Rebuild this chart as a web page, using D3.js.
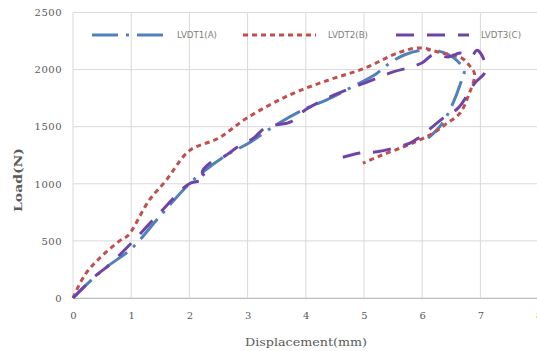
<!DOCTYPE html>
<html><head><meta charset="utf-8">
<script src="https://cdn.jsdelivr.net/npm/d3@7"></script>
<style>body{margin:0;background:#fff;}svg{display:block;}</style>
</head><body>
<svg id="chart" width="537" height="351"></svg>
<script>
const xTicks = [0,1,2,3,4,5,6,7,8];
const yTicks = [0,500,1000,1500,2000,2500];
const seriesNames = ["LVDT1(A)","LVDT2(B)","LVDT3(C)"];
const seriesColors = ["#4f81bd","#c0504d","#7044a6"];
const seriesDash = ["26,8,3,8","5,4","18,13"];

const dispA = [0,0.3,0.6,1.0,1.5,2.0,2.3,2.7,3.0,3.5,4.0,4.36,4.8,5.2,5.45,5.7,6.0,6.3,6.55,6.72,6.68,6.48,6.3,6.1];
const loadA = [0,150,280,430,720,1000,1130,1270,1350,1520,1660,1735,1850,1960,2060,2130,2170,2160,2100,1990,1910,1650,1500,1400];

const dispB = [0,0.2,0.46,0.8,0.95,1.3,1.6,2.0,2.5,3.0,3.73,4.4,5.0,5.6,5.96,6.3,6.68,6.82,6.9,6.8,6.65,6.4,6.19,5.96,5.67,5.3,4.98];
const loadB = [0,200,350,500,550,850,1030,1290,1400,1580,1780,1910,2010,2150,2190,2150,2100,2030,1960,1780,1620,1520,1445,1384,1322,1250,1180];

const dispC = [0,0.4,0.6,1.0,1.5,2.0,2.3,2.22,2.35,2.6,2.82,3.1,3.33,3.73,4.0,4.5,5.15,5.5,5.79,6.0,6.19,6.45,6.65,6.85,6.94,7.05,7.08,6.9,6.62,6.36,5.96,5.79,5.22,4.93,4.42];
const loadC = [0,200,280,480,750,1000,1040,1100,1180,1240,1320,1400,1500,1540,1650,1780,1910,1980,2020,2060,2130,2110,2145,2120,2170,2100,1980,1880,1665,1575,1410,1357,1280,1270,1200];

const svg = d3.select("#chart");
const x = d3.scaleLinear().domain([0,8]).range([73,538.6]);
const y = d3.scaleLinear().domain([0,2500]).range([298,12.5]);
const grid = "#d9d9d9";
const tickColor = "#595959";
const fontSerif = "'DejaVu Serif', 'Liberation Serif', serif";

// gridlines
svg.append("g").selectAll("line.v").data(xTicks).join("line")
  .attr("x1",d=>x(d)).attr("x2",d=>x(d)).attr("y1",y(2500)).attr("y2",y(0))
  .attr("stroke",grid).attr("stroke-width",1);
svg.append("g").selectAll("line.h").data(yTicks).join("line")
  .attr("x1",x(0)).attr("x2",x(8)).attr("y1",d=>y(d)).attr("y2",d=>y(d))
  .attr("stroke",grid).attr("stroke-width",1);

// axes via d3 axis generators
const xAxis = svg.append("g").attr("transform",`translate(0,${y(0)})`)
  .call(d3.axisBottom(x).tickValues(xTicks).tickSize(0).tickPadding(14).tickFormat(d3.format("d")));
xAxis.select(".domain").attr("stroke","#bfbfbf");
xAxis.selectAll("text").attr("fill",tickColor).attr("font-family",fontSerif).attr("font-size",10);

const yAxis = svg.append("g").attr("transform",`translate(${x(0)},0)`)
  .call(d3.axisLeft(y).tickValues(yTicks).tickSize(0).tickPadding(11).tickFormat(d3.format("d")));
yAxis.select(".domain").remove();
yAxis.selectAll("text").attr("fill",tickColor).attr("font-family",fontSerif).attr("font-size",10).attr("letter-spacing","0.5px");

// series
const series = [
  {name:seriesNames[0], xs:dispA, ys:loadA},
  {name:seriesNames[1], xs:dispB, ys:loadB},
  {name:seriesNames[2], xs:dispC, ys:loadC}
];
const line = d3.line().x(d=>x(d[0])).y(d=>y(d[1])).curve(d3.curveCatmullRom.alpha(0.5));
const order = [0,1,2];
order.forEach(i=>{
  const s = series[i];
  const pts = s.xs.map((v,j)=>[v,s.ys[j]]);
  svg.append("path").datum(pts).attr("d",line)
    .attr("fill","none").attr("stroke",seriesColors[i]).attr("stroke-width",3)
    .attr("stroke-dasharray",seriesDash[i]).attr("stroke-linecap","butt");
});

// legend
const legX = [92,243,396];
const legY = 35;
series.forEach((s,i)=>{
  svg.append("line").attr("x1",legX[i]).attr("x2",legX[i]+73).attr("y1",legY).attr("y2",legY)
    .attr("stroke",seriesColors[i]).attr("stroke-width",3).attr("stroke-dasharray",seriesDash[i]);
  svg.append("text").attr("x",legX[i]+85).attr("y",legY+3).text(s.name)
    .attr("fill","#808080").attr("font-family","'DejaVu Sans', sans-serif").attr("font-size",8)
    .attr("textLength",40).attr("lengthAdjust","spacingAndGlyphs");
});

// axis titles
svg.append("text").attr("transform","translate(22,180) rotate(-90)").attr("text-anchor","middle")
  .text("Load(N)").attr("font-family",fontSerif).attr("font-weight","bold").attr("font-size",11.5)
  .attr("fill","#595959").attr("textLength",64).attr("lengthAdjust","spacingAndGlyphs");
svg.append("text").attr("x",306).attr("y",346).attr("text-anchor","middle")
  .text("Displacement(mm)").attr("font-family",fontSerif).attr("font-size",10.5)
  .attr("fill","#595959").attr("textLength",122).attr("lengthAdjust","spacingAndGlyphs");
</script>
</body></html>
